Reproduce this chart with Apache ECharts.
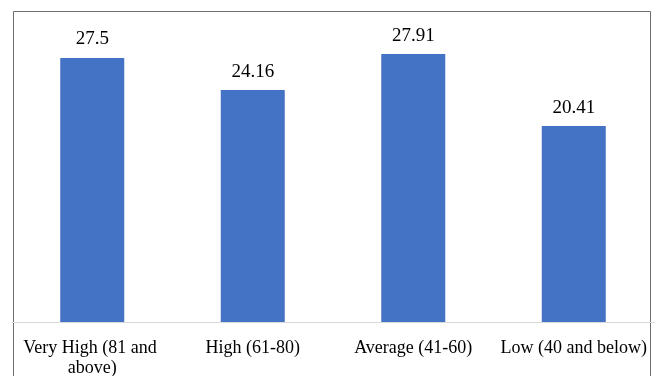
<!DOCTYPE html>
<html>
<head>
<meta charset="utf-8">
<script src="https://cdn.jsdelivr.net/npm/echarts@6/dist/echarts.min.js"></script>
<style>
  html, body { margin: 0; padding: 0; background: #fff; }
  #chart { width: 658px; height: 376px; }
</style>
</head>
<body>
<div id="chart"></div>
<script>
// Score bands and their values
const categories = ['Very High (81 and above)', 'High (61-80)', 'Average (41-60)', 'Low (40 and below)'];
const values = [27.5, 24.16, 27.91, 20.41];

const chart = echarts.init(document.getElementById('chart'));
const serif = '"Liberation Serif", "Times New Roman", serif';

chart.setOption({
  animation: false,
  grid: { left: 12, right: 4, top: 34, bottom: 54, containLabel: false, outerBoundsMode: 'none' },
  xAxis: {
    type: 'category',
    data: categories,
    axisLine: { lineStyle: { color: '#d9d9d9', width: 1 } },
    axisTick: { show: false },
    axisLabel: {
      interval: 0,
      color: '#000',
      fontFamily: serif,
      fontSize: 18,
      lineHeight: 20,
      margin: 16,
      width: 156,
      overflow: 'break'
    }
  },
  yAxis: {
    type: 'value',
    min: 0,
    max: 30,
    show: false,
    splitLine: { show: false }
  },
  series: [{
    type: 'bar',
    data: values,
    barWidth: 64,
    itemStyle: { color: '#4472c4' },
    label: {
      show: true,
      position: 'top',
      distance: 9,
      color: '#000',
      fontFamily: serif,
      fontSize: 19
    }
  }],
  graphic: [{
    type: 'polyline',
    shape: { points: [[13.5, 400], [13.5, 11.5], [650.5, 11.5], [650.5, 400]] },
    style: { stroke: '#6e6e6e', lineWidth: 1, fill: null },
    silent: true
  }]
});
</script>
</body>
</html>
